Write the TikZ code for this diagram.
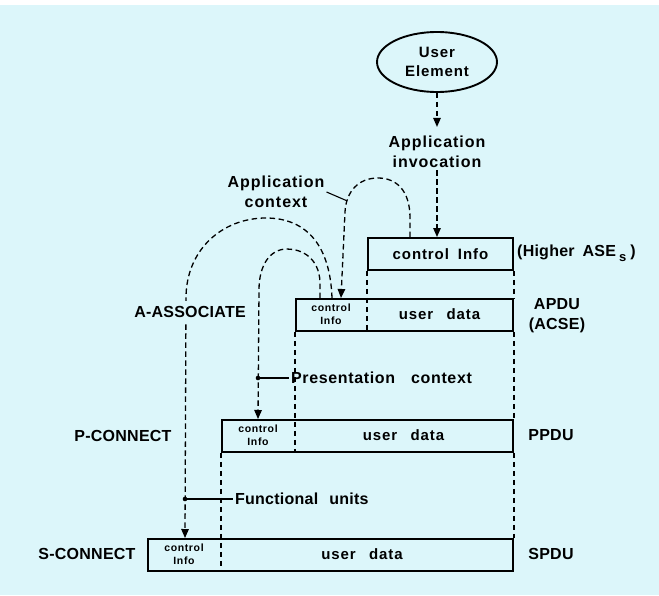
\documentclass[tikz,border=0pt]{standalone}
\usepackage{fontspec}
\setmainfont{Liberation Sans}
\newfontfamily\spcfont[LetterSpace=6]{Liberation Sans}
\newfontfamily\midfont[LetterSpace=4]{Liberation Sans}
\newfontfamily\tightfont[LetterSpace=1.5]{Liberation Sans}
\usetikzlibrary{arrows.meta,shapes.geometric}
\definecolor{bg}{HTML}{DCF6FA}
\tikzset{
  pdubox/.style={draw, rectangle, line width=1.9pt, minimum height=32pt, inner sep=0pt, anchor=north west},
  dsh/.style={line width=1.3pt, dash pattern=on 5.5pt off 3.5pt},
  arr/.style={dsh, -{Triangle[length=9pt,width=7.5pt]}},
  bigtxt/.style={font=\fontsize{16}{20}\selectfont\spcfont\bfseries, align=center, inner sep=2pt},
  labtxt/.style={font=\fontsize{16}{20}\selectfont\tightfont\bfseries, align=center, inner sep=2pt},
  midtxt/.style={font=\fontsize{15}{18}\selectfont\spcfont\bfseries, align=center, inner sep=1pt},
  smltxt/.style={font=\fontsize{10.5}{13}\selectfont\spcfont\bfseries, align=center, inner sep=1pt},
}
\begin{document}
\begin{tikzpicture}[x=1pt,y=-1pt]
\useasboundingbox (0,0) rectangle (659,595);
\fill[bg] (0,0) rectangle (659,595);
\fill[white] (0,0) rectangle (659,5);

% user element
\node[ellipse, draw, line width=1.9pt, minimum width=120pt, minimum height=60pt, inner sep=0pt,
      font=\fontsize{15}{19}\selectfont\spcfont\bfseries, align=center] (ue) at (437,62) {User\\Element};
\node[bigtxt] (inv) at (437,152) {Application\\invocation};
\draw[arr] (ue.south) -- ([yshift=7pt]inv.north);

% boxes
\node[pdubox, minimum width=145pt] (hb) at (367,237) {};
\node[pdubox, minimum width=217pt] (ap) at (295,298) {};
\node[pdubox, minimum width=291pt] (pp) at (221,419) {};
\node[pdubox, minimum width=365pt] (sp) at (147,538) {};

\draw[arr] (inv.south) -- (inv.south |- hb.north);

% dashed guide lines
\draw[dsh] (hb.south west) -- (hb.south west |- ap.south);
\draw[dsh] (hb.south east) -- (ap.north east);
\draw[dsh] (ap.south west) -- (ap.south west |- pp.south);
\draw[dsh] (ap.south east) -- (pp.north east);
\draw[dsh] (pp.south west) -- (pp.south west |- sp.south);
\draw[dsh] (pp.south east) -- (sp.north east);

% box texts
\node[midtxt] (hbt) at (hb.center) {control\hspace{0.6em}Info};
\node[smltxt] (apc) at (331,314) {control\\Info};
\node[midtxt] (apu) at (439.5,314) {user\hspace{0.9em}data};
\node[smltxt] (ppc) at (258,435.5) {control\\Info};
\node[midtxt] (ppu) at (403.5,435.5) {user\hspace{0.9em}data};
\node[smltxt] (spc) at (184,554) {control\\Info};
\node[midtxt] (spu) at (362,554) {user\hspace{0.9em}data};

% side labels
\node[labtxt, anchor=west] (hl) at (515,253) {(Higher\hspace{0.5em}ASE\hspace{0.2em}\raisebox{-5pt}{\fontsize{13}{13}\selectfont s}\hspace{0.25em})};
\node[labtxt] (apl) at (557,304) {APDU};
\node[labtxt] (acl) at (557,325) {(ACSE)};
\node[labtxt] (ppl) at (551,435.5) {PPDU};
\node[labtxt] (spl) at (551,554) {SPDU};
\node[labtxt] (pcn) at (123,435.5) {P-CONNECT};
\node[labtxt] (scn) at (87,554) {S-CONNECT};

% application context arch
\node[bigtxt] (actx) at (276,192) {Application\\context};
\draw[arr] ([xshift=43pt]hb.north west) -- (410,218)
  .. controls (410,190) and (396,178) .. (378,178)
  .. controls (358,178) and (346,192) .. (345,212) coordinate[pos=0.8] (acp)
  -- ([xshift=46pt]ap.north west);
\draw[line width=1.1pt] (actx.east) -- (acp);

% functional units arch
\draw[arr] ([xshift=37pt]ap.north west)
  .. controls (330,240) and (302,218) .. (266,218)
  .. controls (222,218) and (186,250) .. (186,298)
  -- ([xshift=38pt]sp.north west);
\node[labtxt, fill=bg, inner ysep=5pt, inner xsep=1pt] (aas) at (190,312) {A-ASSOCIATE};

% presentation context arch
\draw[arr] ([xshift=25pt]ap.north west) -- (320,282)
  .. controls (319,258) and (302,249) .. (287,249)
  .. controls (270,249) and (259,265) .. (259,290)
  -- ([xshift=37pt]pp.north west);

% presentation context label
\coordinate (pcd) at ([xshift=37pt,yshift=41pt]pp.north west);
\node[bigtxt, anchor=west, font=\fontsize{16}{20}\selectfont\midfont\bfseries] (pct) at (289,378) {Presentation\hspace{1em}context};
\fill (pcd) circle (2.3pt);
\draw[line width=1.1pt] (pcd) -- (pct.west);

% functional units label
\coordinate (fud) at ([xshift=38pt,yshift=39pt]sp.north west);
\node[bigtxt, anchor=west, font=\fontsize{16}{20}\selectfont\tightfont\bfseries] (fut) at (233,499) {Functional\hspace{0.7em}units};
\fill (fud) circle (2.3pt);
\draw[line width=1.1pt] (fud) -- (fut.west);
\end{tikzpicture}
\end{document}
